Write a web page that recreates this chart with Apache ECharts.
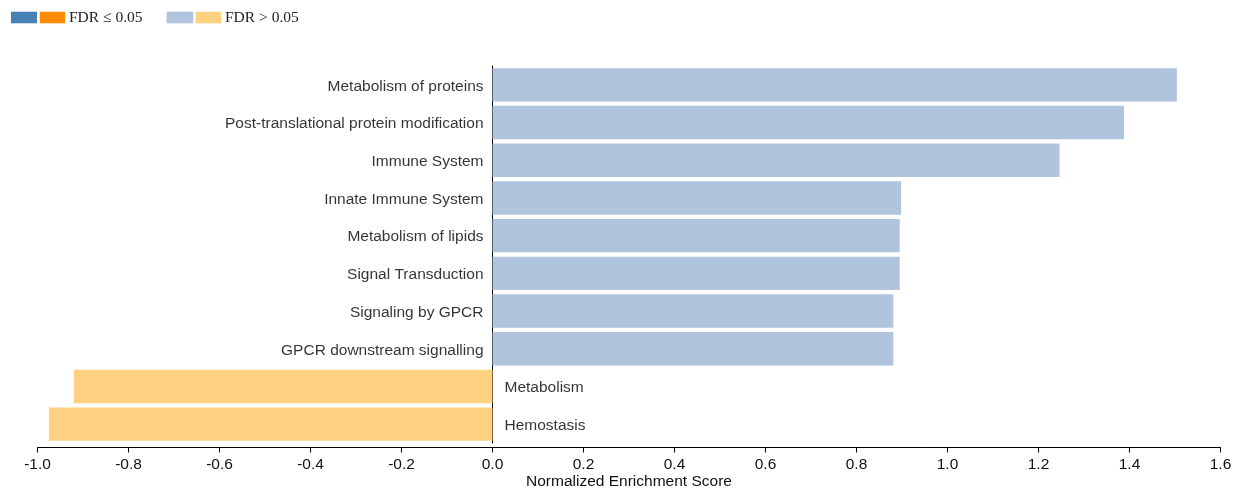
<!DOCTYPE html>
<html>
<head>
<meta charset="utf-8">
<script src="https://cdn.jsdelivr.net/npm/echarts@6/dist/echarts.min.js"></script>
<style>
html,body{margin:0;padding:0;background:#fff;}
#chart{width:1234px;height:488px;}
</style>
</head>
<body>
<div id="chart"></div>
<script>
const categories = [
  'Metabolism of proteins',
  'Post-translational protein modification',
  'Immune System',
  'Innate Immune System',
  'Metabolism of lipids',
  'Signal Transduction',
  'Signaling by GPCR',
  'GPCR downstream signalling',
  'Metabolism',
  'Hemostasis'
];
const nesValues = [1.504, 1.388, 1.246, 0.898, 0.895, 0.895, 0.881, 0.881, -0.920, -0.975];
const fdrSignificant = [false, false, false, false, false, false, false, false, false, false];
const xTickMin = -1.0;
const xTickMax = 1.6;
const xTickStep = 0.2;

const colors = {
  posSig: '#4682B4', negSig: '#FF8C00',
  posNS: '#B0C4DE', negNS: '#FFD07F'
};
function barColor(v, sig) {
  if (v >= 0) return sig ? colors.posSig : colors.posNS;
  return sig ? colors.negSig : colors.negNS;
}

const FONT = '"Liberation Sans", Arial, sans-serif';
const SERIF = '"Liberation Serif", "Times New Roman", serif';

const chart = echarts.init(document.getElementById('chart'), null, {renderer: 'canvas'});
chart.setOption({
  animation: false,
  backgroundColor: '#fff',
  grid: {left: 37.5, right: 13.5, top: 66, height: 377, containLabel: false, outerBoundsMode: 'none'},
  xAxis: {
    type: 'value',
    min: xTickMin, max: xTickMax, interval: xTickStep,
    offset: 4.5,
    splitLine: {show: false},
    axisLine: {show: true, lineStyle: {color: '#000', width: 1}},
    axisTick: {show: true, length: 5, lineStyle: {color: '#000'}},
    axisLabel: {
      fontSize: 15.5, fontFamily: FONT, color: '#111', margin: 9,
      showMinLabel: true, showMaxLabel: true,
      formatter: v => v.toFixed(1)
    },
    name: 'Normalized Enrichment Score',
    nameLocation: 'middle',
    nameGap: 26,
    nameMoveOverlap: false,
    nameTextStyle: {fontSize: 15.5, fontFamily: FONT, color: '#111'}
  },
  yAxis: {
    type: 'category',
    inverse: true,
    data: categories,
    axisLine: {show: true, onZero: true, lineStyle: {color: '#000', width: 1}},
    axisTick: {show: false},
    axisLabel: {show: false},
    splitLine: {show: false}
  },
  series: [
    {
      type: 'bar',
      barCategoryGap: '11.4%',
      data: nesValues.map((v, i) => ({
        value: v,
        itemStyle: {color: barColor(v, fdrSignificant[i])}
      })),
      silent: true
    },
    {
      type: 'scatter',
      symbolSize: 0,
      silent: true,
      z: 5,
      data: categories.map((c, i) => ({
        value: [0, c],
        label: {
          show: true,
          position: nesValues[i] >= 0 ? 'left' : 'right',
          distance: nesValues[i] >= 0 ? 9 : 12,
          offset: [0, 1.5],
          formatter: c,
          fontSize: 15.5,
          fontFamily: FONT,
          color: '#000'
        }
      }))
    }
  ],
  graphic: [
    {type: 'rect', shape: {x: 11, y: 11.7, width: 26, height: 11.6}, style: {fill: colors.posSig}},
    {type: 'rect', shape: {x: 39.7, y: 11.7, width: 25.5, height: 11.6}, style: {fill: colors.negSig}},
    {type: 'text', x: 69, y: 18, style: {text: 'FDR ≤ 0.05', font: '15.5px ' + SERIF, fill: '#222', textVerticalAlign: 'middle', verticalAlign: 'middle'}},
    {type: 'rect', shape: {x: 166.7, y: 11.7, width: 26.5, height: 11.6}, style: {fill: colors.posNS}},
    {type: 'rect', shape: {x: 195.7, y: 11.7, width: 25.5, height: 11.6}, style: {fill: colors.negNS}},
    {type: 'text', x: 225, y: 18, style: {text: 'FDR > 0.05', font: '15.5px ' + SERIF, fill: '#222', textVerticalAlign: 'middle', verticalAlign: 'middle'}}
  ]
});
</script>
</body>
</html>
